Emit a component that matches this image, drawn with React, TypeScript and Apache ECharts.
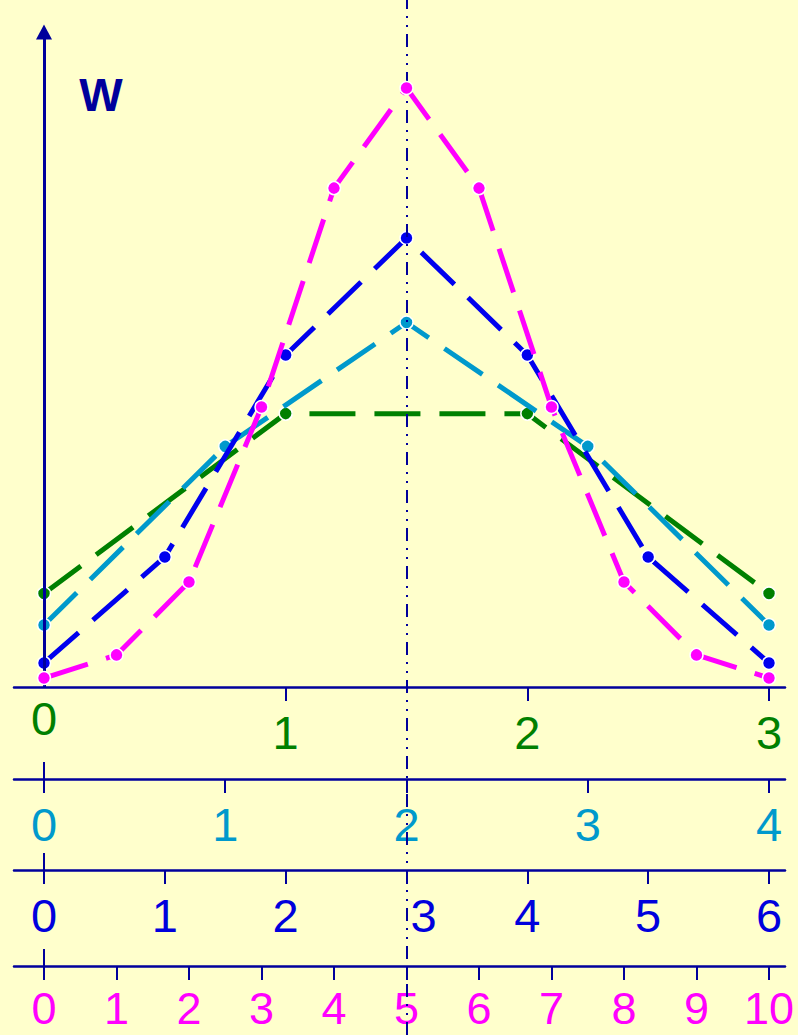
import { useEffect, useRef } from "react";
import * as echarts from "echarts";

// Number of successes k on each scale (n = 3, 4, 6, 10)
const K_GREEN = [0, 1, 2, 3];
const K_CYAN = [0, 1, 2, 3, 4];
const K_BLUE = [0, 1, 2, 3, 4, 5, 6];
const K_MAGENTA = [0, 1, 2, 3, 4, 5, 6, 7, 8, 9, 10];

// Scaled probabilities w = n · P(k)
const W_GREEN = [0.385, 1.125, 1.125, 0.385];
const W_CYAN = [0.255, 0.99, 1.5, 0.99, 0.255];
const W_BLUE = [0.099, 0.535, 1.366, 1.848, 1.366, 0.535, 0.099];
const W_MAGENTA = [0.037, 0.132, 0.432, 1.152, 2.053, 2.465, 2.053, 1.152, 0.432, 0.132, 0.037];

const C_GREEN = "#008000";
const C_CYAN = "#0099cc";
const C_BLUE = "#0000ee";
const C_MAGENTA = "#ff00ff";
const C_AXIS = "#00009c";
const C_BG = "#ffffcc";

const WIDTH = 798;
const HEIGHT = 1035;
const GRID_LEFT = 14;
const GRID_RIGHT = 13;
const X0 = 44; // pixel of k = 0
const X1 = 769; // pixel of k = n
const BASE = 687; // pixel of w = 0
const PX_PER_W = 243;
const AXIS_ROWS = [687, 779, 870, 966];
const FONT = "'Liberation Sans', Arial, sans-serif";
const LABEL_SIZE = 47;
const LABEL_LINE = 34;

const pxToW = (p: number) => (BASE - p) / PX_PER_W;

function xRange(n: number) {
  const u = (X1 - X0) / n;
  return {
    min: -(X0 - GRID_LEFT) / u,
    max: n + (WIDTH - GRID_RIGHT - X1) / u,
  };
}

function makeXAxis(
  ks: number[],
  row: number,
  color: string,
  tickValues: number[],
  opts: {
    formatter?: (v: number) => string;
    rich?: Record<string, unknown>;
    fontSize?: number;
    margin?: number;
  } = {}
) {
  const n = ks[ks.length - 1];
  const r = xRange(n);
  return {
    type: "value",
    position: "bottom",
    min: r.min,
    max: r.max,
    // pull the scale up from the grid's bottom edge to its own row
    offset: row - HEIGHT,
    splitLine: { show: false },
    axisLine: { show: true, onZero: false, lineStyle: { color: C_AXIS, width: 2.5 } },
    axisTick: {
      show: true,
      inside: false,
      length: 14,
      customValues: tickValues,
      lineStyle: { color: C_AXIS, width: 2 },
    },
    axisLabel: {
      show: true,
      customValues: ks,
      margin: opts.margin ?? 45,
      verticalAlign: "middle",
      color,
      fontSize: opts.fontSize ?? LABEL_SIZE,
      lineHeight: LABEL_LINE,
      fontFamily: FONT,
      formatter: opts.formatter || ((v: number) => String(v)),
      rich: opts.rich,
    },
  };
}

function makeSeries(ks: number[], ws: number[], color: string, axisIndex: number, extra?: object) {
  return {
    type: "line",
    xAxisIndex: axisIndex,
    yAxisIndex: 0,
    data: ks.map((k, i) => [k, ws[i]]),
    symbol: "circle",
    symbolSize: 13,
    showSymbol: true,
    lineStyle: { color, width: 5, type: [46, 19], cap: "butt" },
    itemStyle: { color, borderColor: "#ffffff", borderWidth: 1.5 },
    z: 2 + axisIndex,
    ...extra,
  };
}

export default function App() {
  const ref = useRef<HTMLDivElement>(null);

  useEffect(() => {
    if (!ref.current) return;
    const chart = echarts.init(ref.current, null, { renderer: "svg" });

    const nGreen = K_GREEN[K_GREEN.length - 1];
    const axisLine = { color: C_AXIS, width: 2.5, type: "solid" };

    // Decorations anchored in data space: the w-axis arrow, the centre line
    // and the upward half of the zero ticks on the lower scales.
    const markLine = {
      silent: true,
      symbol: ["none", "none"],
      label: { show: false },
      emphasis: { disabled: true },
      data: [
        {
          xAxis: nGreen / 2,
          lineStyle: { color: C_AXIS, width: 2, type: [13, 7, 2, 7, 2, 7] },
        },
        [
          { coord: [0, 0], lineStyle: { ...axisLine, width: 3 } },
          { coord: [0, pxToW(32)], symbol: "triangle", symbolSize: [16, 15] },
        ],
        ...AXIS_ROWS.slice(1).map((row) => [
          { coord: [0, pxToW(row)], lineStyle: { ...axisLine, width: 2 } },
          { coord: [0, pxToW(row - 17)] },
        ]),
      ],
    };

    const yr = { min: -(HEIGHT - BASE) / PX_PER_W, max: BASE / PX_PER_W };

    chart.setOption({
      animation: false,
      backgroundColor: C_BG,
      grid: {
        left: GRID_LEFT,
        right: GRID_RIGHT,
        top: 0,
        bottom: 0,
        containLabel: false,
        outerBoundsMode: "none",
      },
      xAxis: [
        makeXAxis(K_GREEN, AXIS_ROWS[0], C_GREEN, K_GREEN.slice(1), {
          formatter: (v: number) => (v === 0 ? "{lift|0}" : String(v)),
          rich: {
            lift: {
              padding: [0, 0, 28, 0],
              color: C_GREEN,
              fontSize: LABEL_SIZE,
              lineHeight: LABEL_LINE,
              fontFamily: FONT,
            },
          },
        }),
        makeXAxis(K_CYAN, AXIS_ROWS[1], C_CYAN, K_CYAN),
        makeXAxis(K_BLUE, AXIS_ROWS[2], "#0000dd", K_BLUE, {
          formatter: (v: number) =>
            v === K_BLUE[K_BLUE.length - 1] / 2 ? "{shift|" + v + "}" : String(v),
          rich: {
            shift: {
              padding: [0, 0, 0, 34],
              color: "#0000dd",
              fontSize: LABEL_SIZE,
              lineHeight: LABEL_LINE,
              fontFamily: FONT,
            },
          },
        }),
        makeXAxis(K_MAGENTA, AXIS_ROWS[3], C_MAGENTA, K_MAGENTA, {
          fontSize: 45,
          margin: 42,
        }),
      ],
      yAxis: {
        type: "value",
        min: yr.min,
        max: yr.max,
        show: false,
        splitLine: { show: false },
      },
      graphic: [
        {
          type: "text",
          x: 101,
          y: 95,
          z: 10,
          style: {
            text: "W",
            fill: C_AXIS,
            font: `bold 46px ${FONT}`,
            align: "center",
            verticalAlign: "middle",
          },
        },
      ],
      series: [
        makeSeries(K_GREEN, W_GREEN, C_GREEN, 0, { markLine }),
        makeSeries(K_CYAN, W_CYAN, C_CYAN, 1),
        makeSeries(K_BLUE, W_BLUE, C_BLUE, 2),
        makeSeries(K_MAGENTA, W_MAGENTA, C_MAGENTA, 3),
      ],
    });

    return () => chart.dispose();
  }, []);

  return (
    <div
      ref={ref}
      style={{ position: "absolute", left: 0, top: 0, width: WIDTH, height: HEIGHT }}
    />
  );
}
